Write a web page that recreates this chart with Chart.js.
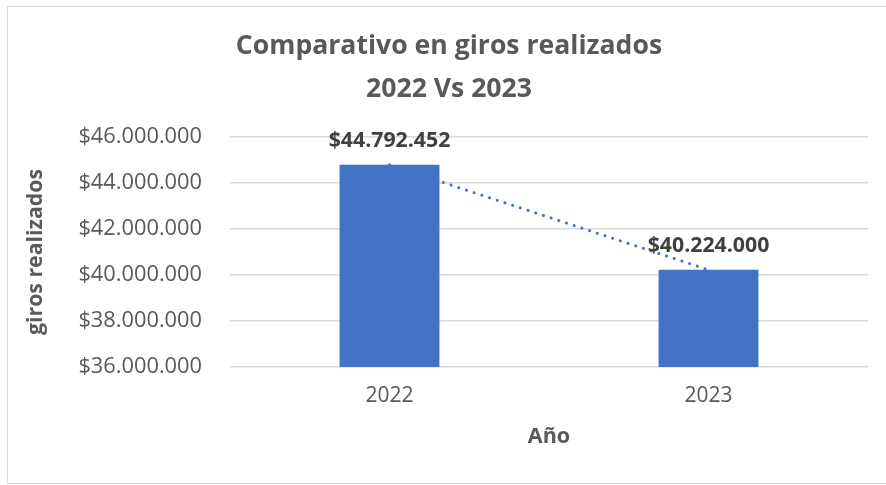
<!DOCTYPE html>
<html><head><meta charset="utf-8">
<script src="https://cdn.jsdelivr.net/npm/chart.js@4.4.1/dist/chart.umd.min.js"></script>
<style>
html,body{margin:0;padding:0;background:#fff;overflow:hidden}
#wrap{position:relative;width:886px;height:485px}
#frame{position:absolute;left:7px;top:6px;width:890px;height:478px;border:1.5px solid #d9d9d9;box-sizing:border-box;pointer-events:none}
canvas{position:absolute;left:0;top:0}
</style></head>
<body><div id="wrap"><canvas id="c" width="886" height="485"></canvas><div id="frame"></div></div>
<script>
const categories = ['2022', '2023'];
const girosRealizados = [44792452, 40224000];
const yMin = 36000000, yMax = 46000000, yStep = 2000000;
const titleLines = ['Comparativo en giros realizados', '2022 Vs 2023'];
const yAxisTitle = 'giros realizados';
const xAxisTitle = 'Año';

function fmt(v){ return '$' + Math.round(v).toString().replace(/\B(?=(\d{3})+(?!\d))/g, '.'); }

const FONT = "'Open Sans', sans-serif";

const dataLabels = {
  id: 'dataLabels',
  afterDatasetsDraw(chart){
    const ctx = chart.ctx;
    const meta = chart.getDatasetMeta(0);
    ctx.save();
    ctx.font = "bold 21.3px " + FONT;
    ctx.fillStyle = '#404040';
    ctx.textAlign = 'center';
    ctx.textBaseline = 'middle';
    meta.data.forEach((bar, i) => {
      ctx.fillText(fmt(girosRealizados[i]), bar.x, bar.y - 24);
    });
    ctx.restore();
  }
};

new Chart(document.getElementById('c'), {
  data: {
    labels: categories,
    datasets: [
      {
        type: 'bar',
        data: girosRealizados,
        backgroundColor: '#4472C4',
        borderWidth: 0,
        barPercentage: 0.313,
        categoryPercentage: 1,
        order: 0
      },
      {
        type: 'line',
        data: girosRealizados,
        borderColor: '#4472C4',
        borderWidth: 3,
        borderDash: [0.1, 8],
        borderCapStyle: 'round',
        pointRadius: 0,
        fill: false,
        order: 1
      }
    ]
  },
  plugins: [dataLabels],
  options: {
    responsive: false,
    animation: false,
    events: [],
    layout: { padding: { left: 30, right: 18, top: 0, bottom: 0 } },
    plugins: {
      legend: { display: false },
      tooltip: { enabled: false },
      title: {
        display: true,
        text: titleLines,
        color: '#595959',
        font: { family: FONT, size: 26.6, weight: 'bold', lineHeight: 1.617 },
        padding: { top: 25, bottom: 26 }
      }
    },
    scales: {
      x: {
        grid: { display: false, drawTicks: false },
        border: { display: false },
        ticks: { color: '#595959', font: { family: FONT, size: 21 }, padding: 16 },
        title: { display: true, text: xAxisTitle, color: '#595959', font: { family: FONT, size: 21.5, weight: 'bold' }, padding: { top: 0, bottom: 35 } },
        afterFit(scale){ scale.height = 118; }
      },
      y: {
        min: yMin, max: yMax,
        ticks: { stepSize: yStep, color: '#595959', font: { family: FONT, size: 21.8 }, padding: 28, callback: v => fmt(v) },
        grid: { color: '#d9d9d9', lineWidth: 1.5, drawTicks: false },
        border: { display: false },
        title: { display: true, text: yAxisTitle, color: '#595959', font: { family: FONT, size: 21.3, weight: 'bold' }, padding: { top: -7, bottom: 0 } },
        afterFit(scale){ scale.width = 200; }
      }
    }
  }
});
</script>
</body></html>
